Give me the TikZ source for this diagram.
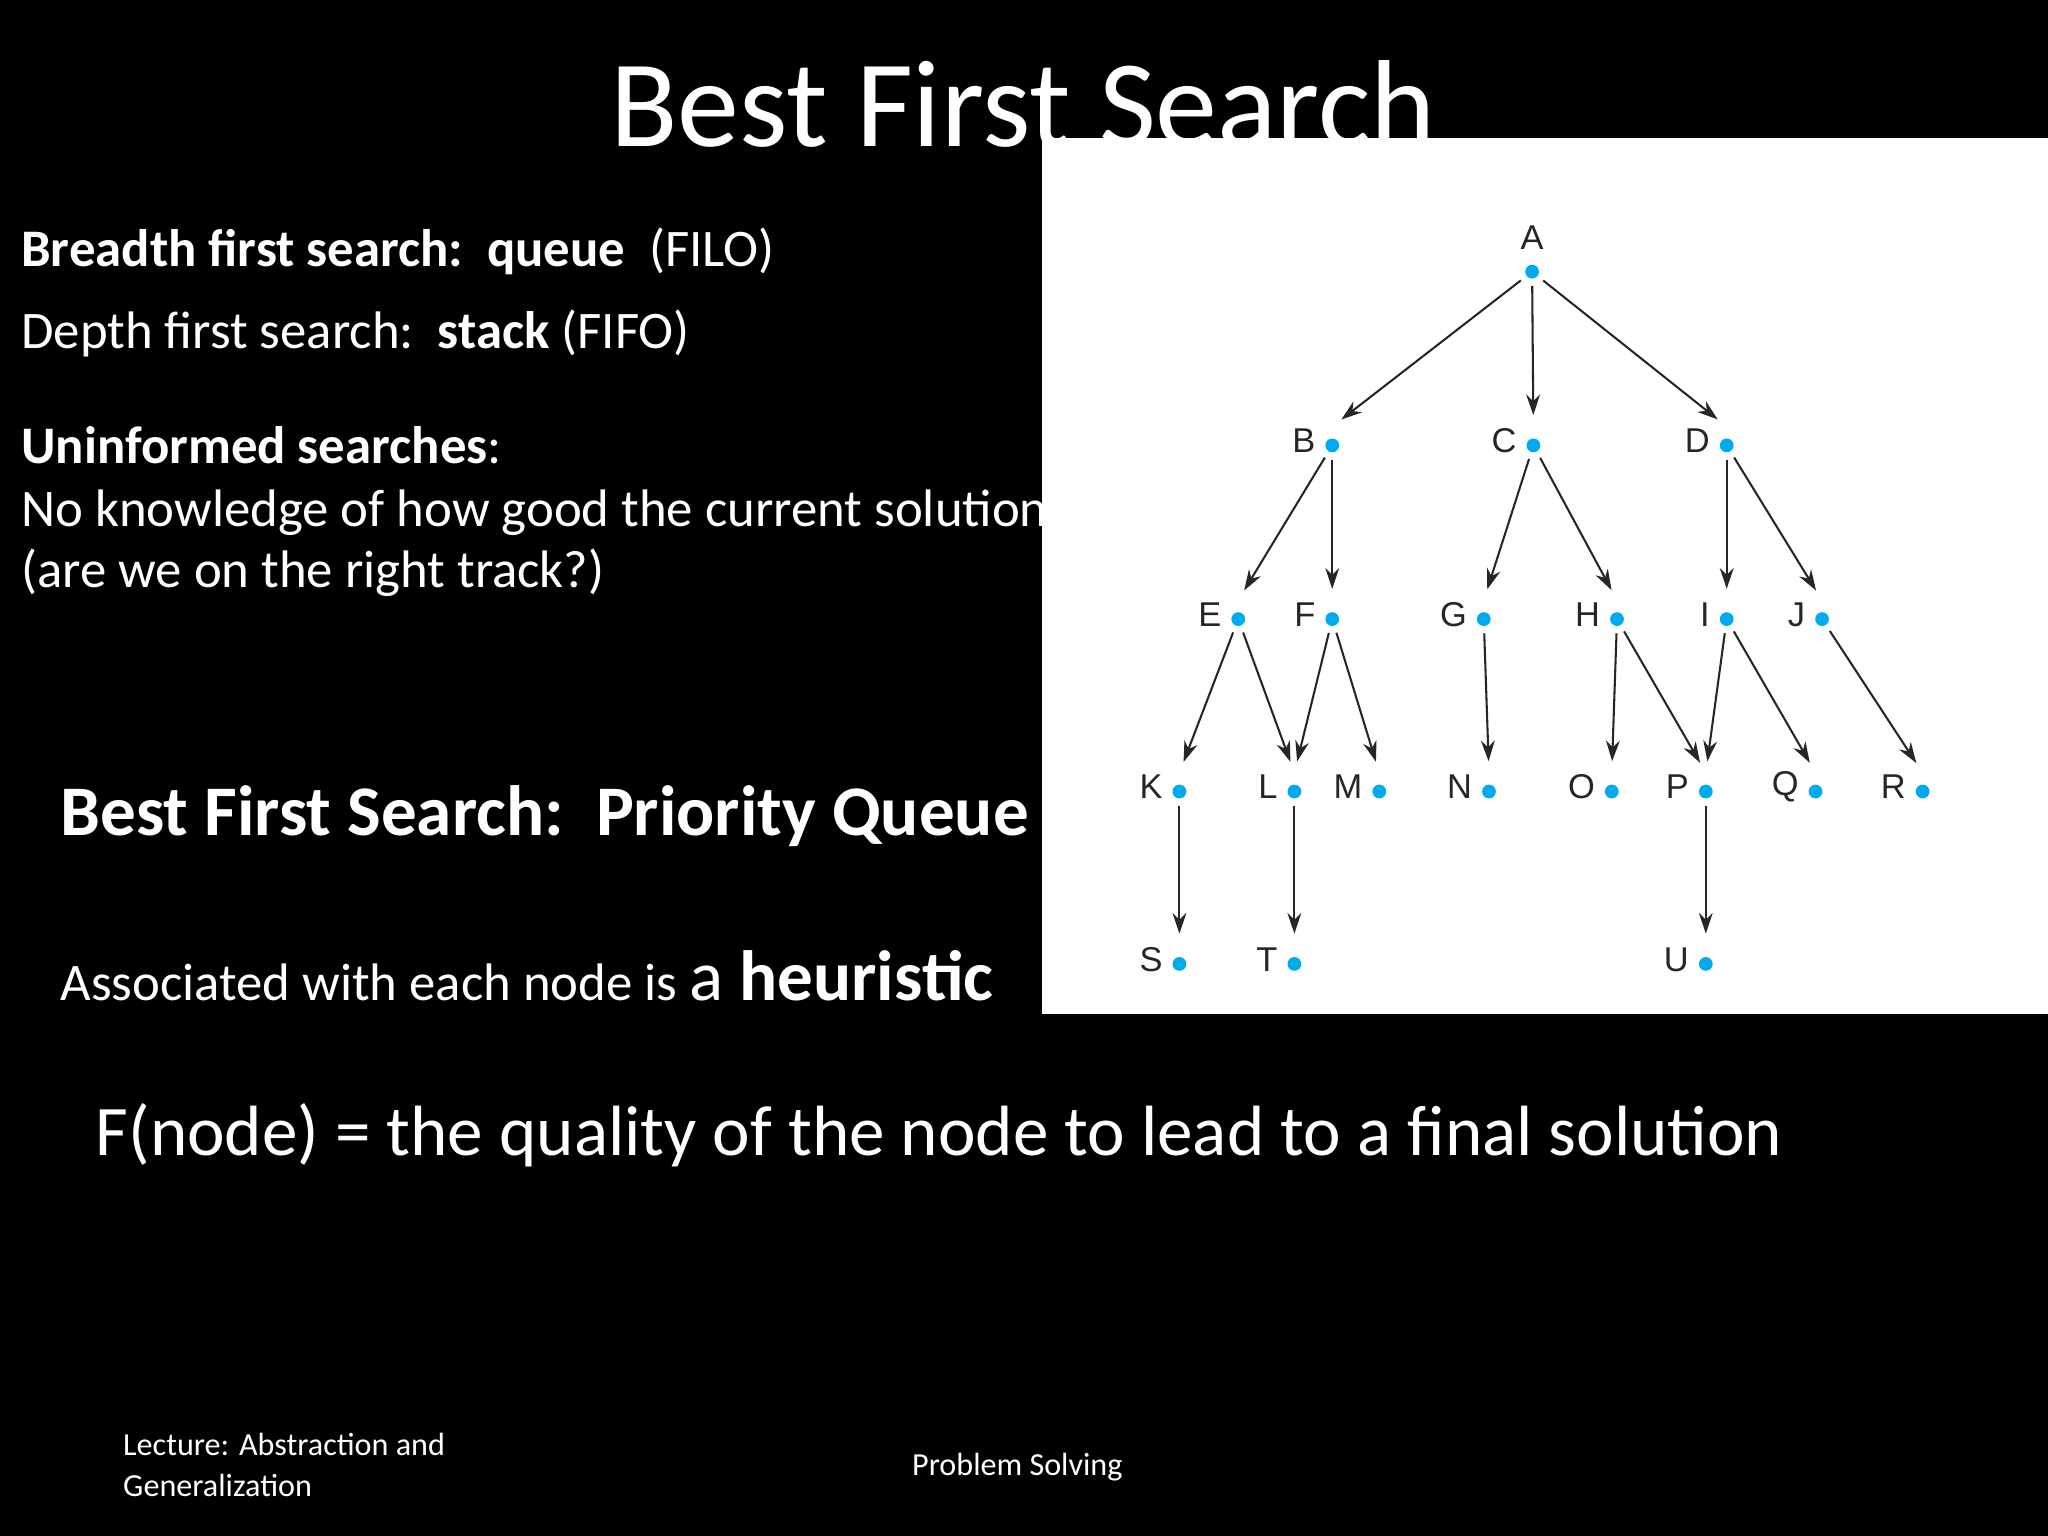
\documentclass[tikz,border=0pt]{standalone}
\usepackage{fontspec}
\setmainfont{Carlito}
\newfontfamily\lbl{Liberation Sans}
\usetikzlibrary{arrows.meta}
\definecolor{dotc}{RGB}{0,170,240}
\begin{document}
\begin{tikzpicture}[x=0.02cm,y=-0.02cm,
  txt/.style={anchor=base west,text=white,inner sep=0},
  dot/.style={circle,fill=dotc,minimum size=6pt,inner sep=0},
  lab/.style={font=\lbl\fontsize{15}{15}\selectfont,text=black!85,inner sep=0},
  arr/.style={-{Stealth[length=9pt,width=6pt]},draw=black!85,line width=0.9pt,shorten >=5pt,shorten <=3pt}]
\fill[black] (0,0) rectangle (1568,1176);
\useasboundingbox (0,0) rectangle (1568,1176);
\node[txt,font=\fontsize{54}{54}\selectfont] (title) at (467,112) {Best First Search};
\node[txt,font=\fontsize{23}{23}\selectfont] (t1) at (16,204) {\textbf{Breadth first search:\ \ queue}\ \ (FILO)};
\node[txt,font=\fontsize{23}{23}\selectfont] (t2) at (16,267) {Depth first search:\ \ \textbf{stack} (FIFO)};
\node[txt,font=\fontsize{23}{23}\selectfont] (t3) at (16,355) {\textbf{Uninformed searches}:};
\node[txt,font=\fontsize{23}{23}\selectfont] (t4) at (16,403) {No knowledge of how good the current solution is};
\node[txt,font=\fontsize{23}{23}\selectfont] (t5) at (16,450) {(are we on the right track?)};
\node[txt,font=\bfseries\fontsize{31}{31}\selectfont] (t6) at (46,640) {Best First Search:\ \ Priority Queue};
\node[txt,font=\fontsize{23}{23}\selectfont] (t7) at (46,766) {Associated with each node is {\fontsize{31}{31}\selectfont a \textbf{heuristic}}};
\node[txt,font=\fontsize{31}{31}\selectfont] (t8) at (73,885) {F(node) = the quality of the node to lead to a final solution};
\node[txt,font=\fontsize{14}{14}\selectfont] (f1) at (94,1114) {Lecture: Abstraction and};
\node[txt,font=\fontsize{14}{14}\selectfont] (f2) at (94,1146) {Generalization};
\node[txt,font=\fontsize{14}{14}\selectfont] (f3) at (698,1130) {Problem Solving};
\fill[white] (798,106) rectangle (1568,776);
\foreach \n/\x/\y in {A/1173/208,B/1020/341,C/1174/341,D/1322/341,E/948/474,F/1020/474,G/1136/474,H/1238/474,I/1322/474,J/1395/474,K/903/606,L/991/606,M/1056/606,N/1140/606,O/1234/606,P/1306/606,Q/1390/606,R/1472/606,S/903/738,T/991/738,U/1306/738}{
  \node[dot] (\n) at (\x,\y) {};
}
\node[lab] at (1173,182) {A};
\foreach \n in {B,C,D,E,F,G,H,I,J,K,L,M,N,O,P,Q,R,S,T,U}{
  \node[lab,anchor=east] at ([xshift=-4pt,yshift=2pt]\n.west) {\n};
}
\foreach \a/\b in {A/B,A/C,A/D,B/E,B/F,C/G,C/H,D/I,D/J,E/K,E/L,F/L,F/M,G/N,H/O,H/P,I/P,I/Q,J/R,K/S,L/T,P/U}{
  \draw[arr] (\a) -- ([yshift=5pt]\b.north);
}
\end{tikzpicture}
\end{document}
